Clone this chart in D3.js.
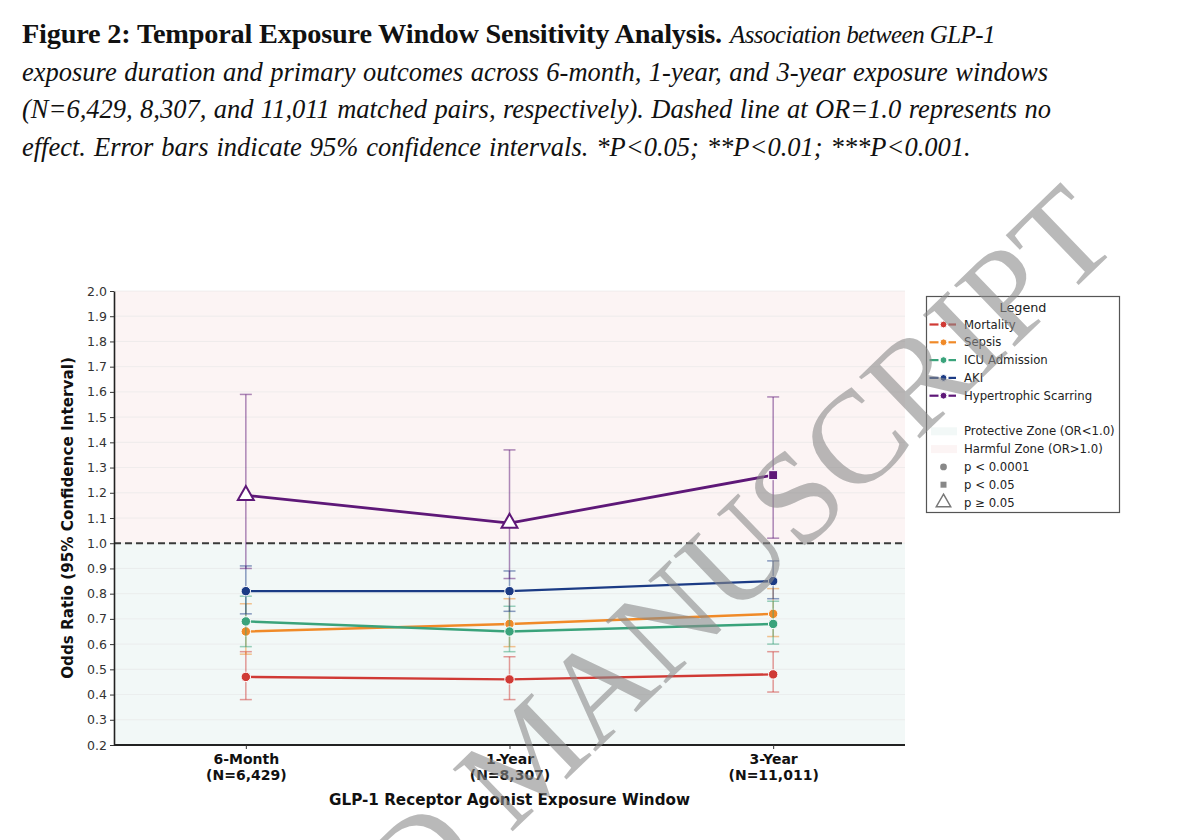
<!DOCTYPE html>
<html>
<head>
<meta charset="utf-8">
<script src="https://cdn.jsdelivr.net/npm/d3@7"></script>
<style>
  body { margin: 0; background: #fff; }
  svg { display: block; }
</style>
</head>
<body>
<div id="chart"></div>
<script>
// Exposure windows (x categories)
const windows = ["6-Month", "1-Year", "3-Year"];
const windowN = ["(N=6,429)", "(N=8,307)", "(N=11,011)"];

// Outcomes, in drawing order
const outcomes = ["Mortality", "Sepsis", "ICU Admission", "AKI", "Hypertrophic Scarring"];
const outcomeColours = ["#d03a35", "#f08a28", "#3aa37b", "#1b3b85", "#5e1878"];

// Odds ratios and 95% CI, one value per window
const mortalityOR = [0.47, 0.46, 0.48];
const mortalityLo = [0.38, 0.38, 0.41];
const mortalityHi = [0.57, 0.55, 0.57];

const sepsisOR = [0.65, 0.68, 0.72];
const sepsisLo = [0.56, 0.59, 0.63];
const sepsisHi = [0.76, 0.78, 0.82];

const icuOR = [0.69, 0.65, 0.68];
const icuLo = [0.59, 0.57, 0.60];
const icuHi = [0.79, 0.75, 0.77];

const akiOR = [0.81, 0.81, 0.85];
const akiLo = [0.72, 0.73, 0.78];
const akiHi = [0.91, 0.89, 0.93];

const scarringOR = [1.19, 1.08, 1.27];
const scarringLo = [0.90, 0.86, 1.02];
const scarringHi = [1.59, 1.37, 1.58];

// Significance class per window: c = p<0.0001, s = p<0.05, t = p>=0.05
const mortalitySig = ["c", "c", "c"];
const sepsisSig = ["c", "c", "c"];
const icuSig = ["c", "c", "c"];
const akiSig = ["c", "c", "c"];
const scarringSig = ["t", "t", "s"];

// Y tick labels
const yTicks = [0.2, 0.3, 0.4, 0.5, 0.6, 0.7, 0.8, 0.9, 1.0, 1.1, 1.2, 1.3, 1.4, 1.5, 1.6, 1.7, 1.8, 1.9, 2.0];

// Caption
const captionBold = "Figure 2: Temporal Exposure Window Sensitivity Analysis.";
const captionLines = [
  "Association between GLP-1",
  "exposure duration and primary outcomes across 6-month, 1-year, and 3-year exposure windows",
  "(N=6,429, 8,307, and 11,011 matched pairs, respectively). Dashed line at OR=1.0 represents no",
  "effect. Error bars indicate 95% confidence intervals.  *P<0.05; **P<0.01; ***P<0.001."
];

const series = [
  { or: mortalityOR, lo: mortalityLo, hi: mortalityHi, sig: mortalitySig },
  { or: sepsisOR, lo: sepsisLo, hi: sepsisHi, sig: sepsisSig },
  { or: icuOR, lo: icuLo, hi: icuHi, sig: icuSig },
  { or: akiOR, lo: akiLo, hi: akiHi, sig: akiSig },
  { or: scarringOR, lo: scarringLo, hi: scarringHi, sig: scarringSig }
].map((s, i) => ({ ...s, name: outcomes[i], colour: outcomeColours[i] }));

const width = 1200;
const height = 840;
const plot = { left: 114, right: 905, top: 291, bottom: 745 };
const FONT = "'DejaVu Sans', sans-serif";
const SERIF = "'Liberation Serif', 'Times New Roman', serif";

const svg = d3.select("#chart")
  .append("svg")
  .attr("width", width)
  .attr("height", height);

svg.append("rect").attr("width", width).attr("height", height).attr("fill", "#fff");

// ---- Caption ----
// make a text end at x1: widen word gaps, or tighten letters when too long
function fitText(t, x0, x1) {
  const natural = t.node().getComputedTextLength();
  const str = t.text();
  const spare = x1 - x0 - natural;
  if (spare >= 0) {
    const spaces = (str.match(/ /g) || []).length;
    t.style("word-spacing", spare / Math.max(1, spaces) + "px");
  } else {
    t.style("letter-spacing", spare / str.length + "px");
  }
}

const caption = svg.append("g").style("font-family", SERIF)
  .style("font-size", "26.5px").attr("fill", "#111");

const boldText = caption.append("text").attr("x", 22).attr("y", 43)
  .style("font-weight", "bold").style("font-size", "28.3px").text(captionBold);
fitText(boldText, 22, 722);

const captionStarts = [730, 22, 22, 22];
const captionEnds = [995, 1048, 1051, 972];
captionLines.forEach((line, i) => {
  const t = caption.append("text")
    .attr("x", captionStarts[i]).attr("y", 43 + i * 37.7)
    .style("font-style", "italic").text(line);
  if (i === 0) t.style("font-size", "25px");
  fitText(t, captionStarts[i], captionEnds[i]);
});

// ---- Scales ----
const x = d3.scalePoint().domain(windows).range([plot.left, plot.right]).padding(0.5);
const y = d3.scaleLinear().domain([0.2, 2.0]).range([plot.bottom, plot.top]);

// Zones
svg.append("rect")
  .attr("x", plot.left).attr("y", y(2.0))
  .attr("width", plot.right - plot.left).attr("height", y(1.0) - y(2.0))
  .attr("fill", "#fcf4f4");
svg.append("rect")
  .attr("x", plot.left).attr("y", y(1.0))
  .attr("width", plot.right - plot.left).attr("height", y(0.2) - y(1.0))
  .attr("fill", "#f2f8f7");

// Grid
svg.append("g")
  .selectAll("line")
  .data(yTicks)
  .join("line")
  .attr("x1", plot.left).attr("x2", plot.right)
  .attr("y1", (d) => y(d)).attr("y2", (d) => y(d))
  .attr("stroke", "#e6e6e6").attr("stroke-opacity", 0.6).attr("stroke-width", 1);

// Reference line
svg.append("line")
  .attr("x1", plot.left).attr("x2", plot.right)
  .attr("y1", y(1.0)).attr("y2", y(1.0))
  .attr("stroke", "#3a3a3a").attr("stroke-width", 2).attr("stroke-dasharray", "7,4");

// ---- Series ----
const symbolFor = { c: d3.symbolCircle, s: d3.symbolSquare, t: d3.symbolTriangle };
const sizeFor = { c: 70, s: 80, t: 110 };

series.forEach((s) => {
  const g = svg.append("g");
  const pts = windows.map((w, j) => ({ w, or: s.or[j], lo: s.lo[j], hi: s.hi[j], sig: s.sig[j] }));

  // error bars
  const eb = g.append("g").attr("stroke", s.colour).attr("stroke-opacity", 0.5).attr("stroke-width", 1.5);
  pts.forEach((p) => {
    eb.append("line").attr("x1", x(p.w)).attr("x2", x(p.w)).attr("y1", y(p.lo)).attr("y2", y(p.hi));
    eb.append("line").attr("x1", x(p.w) - 6).attr("x2", x(p.w) + 6).attr("y1", y(p.lo)).attr("y2", y(p.lo));
    eb.append("line").attr("x1", x(p.w) - 6).attr("x2", x(p.w) + 6).attr("y1", y(p.hi)).attr("y2", y(p.hi));
  });

  // line
  g.append("path")
    .datum(pts)
    .attr("fill", "none")
    .attr("stroke", s.colour)
    .attr("stroke-width", s.name === "Hypertrophic Scarring" ? 2.8 : 2.4)
    .attr("d", d3.line().x((p) => x(p.w)).y((p) => y(p.or)));

  // markers
  g.selectAll(".mk")
    .data(pts)
    .join("path")
    .attr("class", "mk")
    .attr("transform", (p) => `translate(${x(p.w)},${y(p.or)})`)
    .attr("d", (p) => d3.symbol(symbolFor[p.sig], sizeFor[p.sig])())
    .attr("fill", (p) => (p.sig === "t" ? "#fff" : s.colour))
    .attr("stroke", (p) => (p.sig === "t" ? s.colour : "#fff"))
    .attr("stroke-width", (p) => (p.sig === "t" ? 2 : 1));
});

// ---- Axes ----
const yAxis = svg.append("g")
  .attr("transform", `translate(${plot.left},0)`)
  .call(d3.axisLeft(y).tickValues(yTicks).tickFormat(d3.format(".1f")).tickSize(4).tickSizeOuter(0));
yAxis.select(".domain").attr("stroke", "#222").attr("stroke-width", 1.6);
yAxis.selectAll(".tick line").attr("stroke", "#333");
yAxis.selectAll(".tick text").style("font-family", FONT).style("font-size", "12.5px").attr("fill", "#333");

const xAxis = svg.append("g")
  .attr("transform", `translate(0,${plot.bottom})`)
  .call(d3.axisBottom(x).tickSize(4).tickSizeOuter(0));
xAxis.select(".domain").attr("stroke", "#222").attr("stroke-width", 2.2)
  .attr("d", `M${plot.left},0H${plot.right}`);
xAxis.selectAll(".tick line").attr("stroke", "#333");
xAxis.selectAll(".tick text").remove();
xAxis.selectAll(".tick").each(function (d, i) {
  const t = d3.select(this).append("text")
    .attr("text-anchor", "middle")
    .attr("fill", "#111")
    .style("font-family", FONT).style("font-size", "14px").style("font-weight", "bold");
  t.append("tspan").attr("x", 0).attr("y", 19).text(d);
  t.append("tspan").attr("x", 0).attr("y", 34.5).text(windowN[i]);
});

svg.append("text")
  .attr("x", (plot.left + plot.right) / 2).attr("y", 805)
  .attr("text-anchor", "middle")
  .attr("fill", "#111")
  .style("font-family", FONT).style("font-size", "15.2px").style("font-weight", "bold")
  .text("GLP-1 Receptor Agonist Exposure Window");

svg.append("text")
  .attr("transform", `translate(68,${(plot.top + plot.bottom) / 2}) rotate(-90)`)
  .attr("text-anchor", "middle")
  .attr("dominant-baseline", "central")
  .attr("fill", "#111")
  .style("font-family", FONT).style("font-size", "15.2px").style("font-weight", "bold")
  .text("Odds Ratio (95% Confidence Interval)");

// ---- Legend ----
const legend = svg.append("g").style("font-family", FONT).style("font-size", "11.7px");
legend.append("rect")
  .attr("x", 926.5).attr("y", 296.5).attr("width", 193).attr("height", 216)
  .attr("fill", "#fff").attr("stroke", "#555").attr("stroke-width", 1.2);
legend.append("text")
  .attr("x", 1023).attr("y", 307).attr("text-anchor", "middle").attr("dominant-baseline", "central")
  .style("font-size", "12.8px").attr("fill", "#222").text("Legend");

const rowY = (k) => 324.5 + k * 17.8;
series.forEach((s, k) => {
  const yy = rowY(k);
  legend.append("line").attr("x1", 929.5).attr("x2", 938.5).attr("y1", yy).attr("y2", yy)
    .attr("stroke", s.colour).attr("stroke-width", 2.2);
  legend.append("line").attr("x1", 948.5).attr("x2", 956).attr("y1", yy).attr("y2", yy)
    .attr("stroke", s.colour).attr("stroke-width", 2.2);
  legend.append("circle").attr("cx", 943.5).attr("cy", yy).attr("r", 3.4)
    .attr("fill", s.colour).attr("stroke", "#fff").attr("stroke-width", 1);
  legend.append("text").attr("x", 964).attr("y", yy).attr("dominant-baseline", "central")
    .attr("fill", "#222").text(s.name);
});

const zoneRows = [
  { label: "Protective Zone (OR<1.0)", fill: "#f2f8f7" },
  { label: "Harmful Zone (OR>1.0)", fill: "#fcf4f4" }
];
zoneRows.forEach((z, k) => {
  const yy = rowY(6 + k);
  legend.append("rect").attr("x", 931).attr("y", yy - 4).attr("width", 26).attr("height", 8).attr("fill", z.fill);
  legend.append("text").attr("x", 964).attr("y", yy).attr("dominant-baseline", "central")
    .attr("fill", "#222").text(z.label);
});

const sigRows = [
  { label: "p < 0.0001", sig: "c" },
  { label: "p < 0.05", sig: "s" },
  { label: "p \u2265 0.05", sig: "t" }
];
sigRows.forEach((r, k) => {
  const yy = rowY(8 + k);
  legend.append("path")
    .attr("transform", `translate(943.5,${yy})`)
    .attr("d", d3.symbol(symbolFor[r.sig], r.sig === "t" ? 90 : 36)())
    .attr("fill", r.sig === "t" ? "#fff" : "#888")
    .attr("stroke", r.sig === "t" ? "#777" : "none")
    .attr("stroke-width", 1.5);
  legend.append("text").attr("x", 964).attr("y", yy).attr("dominant-baseline", "central")
    .attr("fill", "#222").text(r.label);
});

// ---- Watermark ----
svg.append("text")
  .attr("transform", "translate(1122,243) rotate(-44)")
  .attr("text-anchor", "end")
  .style("font-family", SERIF)
  .style("font-size", "132px")
  .attr("fill", "#8a8a8a")
  .attr("fill-opacity", 0.6)
  .text("ACCEPTED MANUSCRIPT");
</script>
</body>
</html>
